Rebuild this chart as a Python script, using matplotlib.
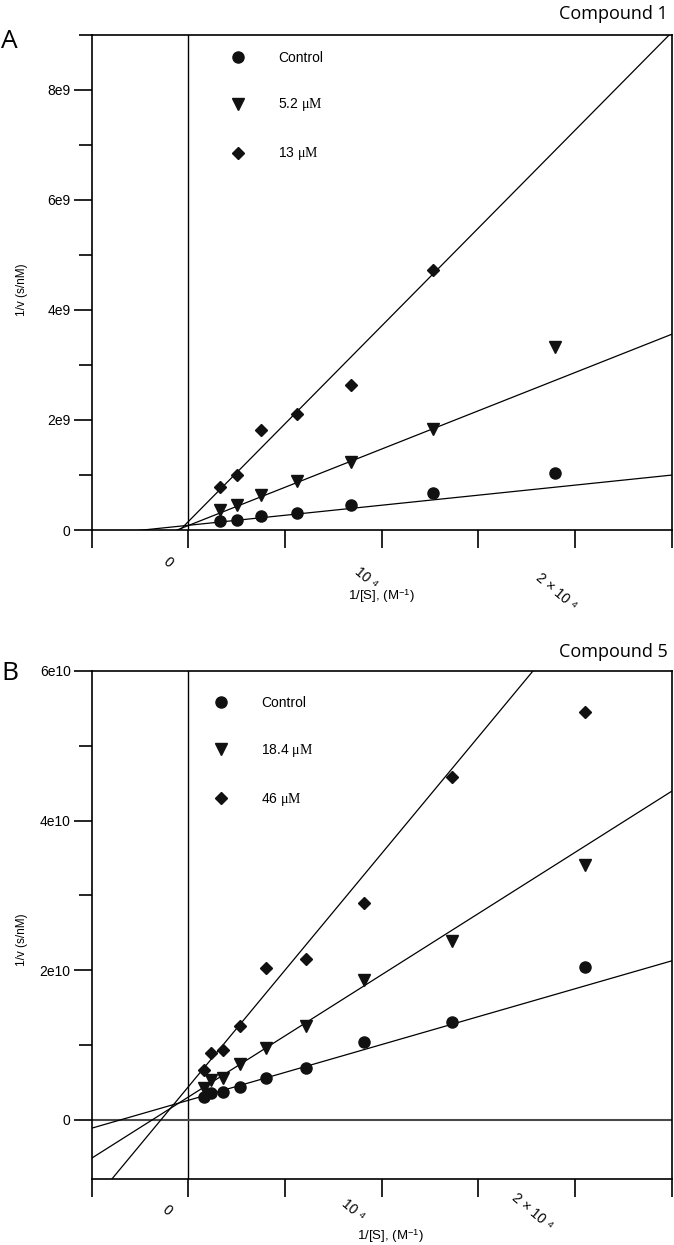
import matplotlib
matplotlib.use('Agg')
import matplotlib.pyplot as plt
import numpy as np

plt.rcParams['font.family'] = ['Liberation Sans', 'DejaVu Sans']
plt.rcParams['mathtext.fontset'] = 'custom'
plt.rcParams['mathtext.rm'] = 'Liberation Serif'
plt.rcParams['mathtext.it'] = 'Liberation Serif:italic'
plt.rcParams['mathtext.sf'] = 'Liberation Sans'

# ---- panel A : compound 1 ----
x_a = [1666.7, 2500, 3750, 5625, 8437.5, 12656, 18984]
ctrl_a = [0.16e9, 0.19e9, 0.25e9, 0.31e9, 0.46e9, 0.68e9, 1.04e9]
low_a = [0.36e9, 0.45e9, 0.64e9, 0.89e9, 1.23e9, 1.83e9, 3.33e9]
high_a = [0.79e9, 1.00e9, 1.81e9, 2.10e9, 2.63e9, 4.73e9]
labels_a = ['Control', r'5.2 $\mathrm{\mu M}$', r'13 $\mathrm{\mu M}$']
slope_a = [3.65e4, 1.39e5, 3.555e5]
icpt_a = [0.085e9, 0.08e9, 0.15e9]

# ---- panel B : compound 5 ----
x_b = [800, 1200, 1800, 2700, 4050, 6075, 9112.5, 13669, 20503]
ctrl_b = [3.06e9, 3.52e9, 3.73e9, 4.40e9, 5.53e9, 6.86e9, 10.42e9, 13.10e9, 20.45e9]
low_b = [4.19e9, 5.30e9, 5.53e9, 7.44e9, 9.62e9, 12.52e9, 18.68e9, 23.93e9, 34.06e9]
high_b = [6.64e9, 8.95e9, 9.31e9, 12.56e9, 20.24e9, 21.45e9, 28.94e9, 45.87e9, 54.57e9]
labels_b = ['Control', r'18.4 $\mathrm{\mu M}$', r'46 $\mathrm{\mu M}$']
slope_b = [7.46e5, 1.636e6, 3.12e6]
icpt_b = [2.57e9, 3.0e9, 4.36e9]

xticks = np.arange(-5000, 25001, 5000)
xlabels = ['0', '10 \u2074', '2 \u00d7 10 \u2074']

W, H = 674, 1245
fig = plt.figure(figsize=(W / 100, H / 100), dpi=100)


def ftxt(x, y, s, **kw):
    fig.text(x / W, 1 - y / H, s, **kw)


markers = ['o', 'v', 'D']
msizes = [8, 9, 6.5]
col = '#111111'


def panel(ax, x, series, slopes, icpts, labels, ylim, yt, ytl, ymin, leg_anchor):
    handles = []
    for ys, m, ms in zip(series, markers, msizes):
        h, = ax.plot(x[:len(ys)], ys, linestyle='none', marker=m, ms=ms,
                     color=col, zorder=4)
        handles.append(h)
    xl = np.array([-5000, 25000])
    for s, b in zip(slopes, icpts):
        ax.plot(xl, s * xl + b, color='black', lw=0.9, zorder=3)
    ax.axvline(0, color='black', lw=1.0, zorder=2)
    ax.set_xlim(-5000, 25000)
    ax.set_ylim(*ylim)
    ax.set_xticks(xticks)
    ax.set_xticklabels([''] * len(xticks))
    ax.set_yticks(yt)
    ax.set_yticklabels(ytl, fontsize=10)
    ax.set_yticks(ymin, minor=True)
    ax.tick_params(axis='both', which='major', direction='out', length=13,
                   width=1.2, pad=2)
    ax.tick_params(axis='y', which='minor', direction='out', length=9.5, width=1.2)
    for sp in ax.spines.values():
        sp.set_linewidth(1.2)
    ax.legend(handles, labels, loc='upper left', bbox_to_anchor=leg_anchor,
              frameon=False, fontsize=10, borderaxespad=0, borderpad=0,
              handlelength=1.0, handletextpad=2.4, labelspacing=2.3,
              numpoints=1)


ax_a = fig.add_axes([91.5 / W, 1 - 530 / H, 580 / W, (530 - 34.7) / H])
panel(ax_a, x_a, [ctrl_a, low_a, high_a], slope_a, icpt_a, labels_a,
      (0, 9e9), [0, 2e9, 4e9, 6e9, 8e9], ['0', '2e9', '4e9', '6e9', '8e9'],
      [1e9, 3e9, 5e9, 7e9, 9e9], (0.240, 0.968))

ax_b = fig.add_axes([91.5 / W, 1 - 1179 / H, 580 / W, (1179 - 671) / H])
panel(ax_b, x_b, [ctrl_b, low_b, high_b], slope_b, icpt_b, labels_b,
      (-7.95e9, 6e10), [0, 2e10, 4e10, 6e10], ['0', '2e10', '4e10', '6e10'],
      [1e10, 3e10, 5e10], (0.211, 0.951))
ax_b.axhline(0, color='#4a4a4a', lw=1.5, zorder=2)

# rotated x tick labels
for (px, py), s in zip([(168, 562), (366, 578), (556, 592)], xlabels):
    ftxt(px, py, s, rotation=-40, ha='center', va='center', fontsize=10)
for (px, py), s in zip([(167, 1210), (353, 1210), (532, 1212)], xlabels):
    ftxt(px, py, s, rotation=-40, ha='center', va='center', fontsize=10)

xlab = r'1/[S], (M$^{\mathsf{-1}}$)'
ftxt(381, 596, xlab, ha='center', va='center', fontsize=9.5)
ftxt(390, 1236, xlab, ha='center', va='center', fontsize=9.5)

ftxt(22, 290, '1/v (s/nM)', rotation=90, ha='center', va='center', fontsize=8.5)
ftxt(22, 940, '1/v (s/nM)', rotation=90, ha='center', va='center', fontsize=8.5)

ftxt(668, 14, 'Compound 1', ha='right', va='center', fontsize=13, family='Open Sans')
ftxt(668, 652, 'Compound 5', ha='right', va='center', fontsize=13, family='Open Sans')
ftxt(1, 42, 'A', ha='left', va='center', fontsize=19, family='Open Sans')
ftxt(1, 674, 'B', ha='left', va='center', fontsize=19, family='Open Sans')

fig.savefig('out.png', dpi=100)
